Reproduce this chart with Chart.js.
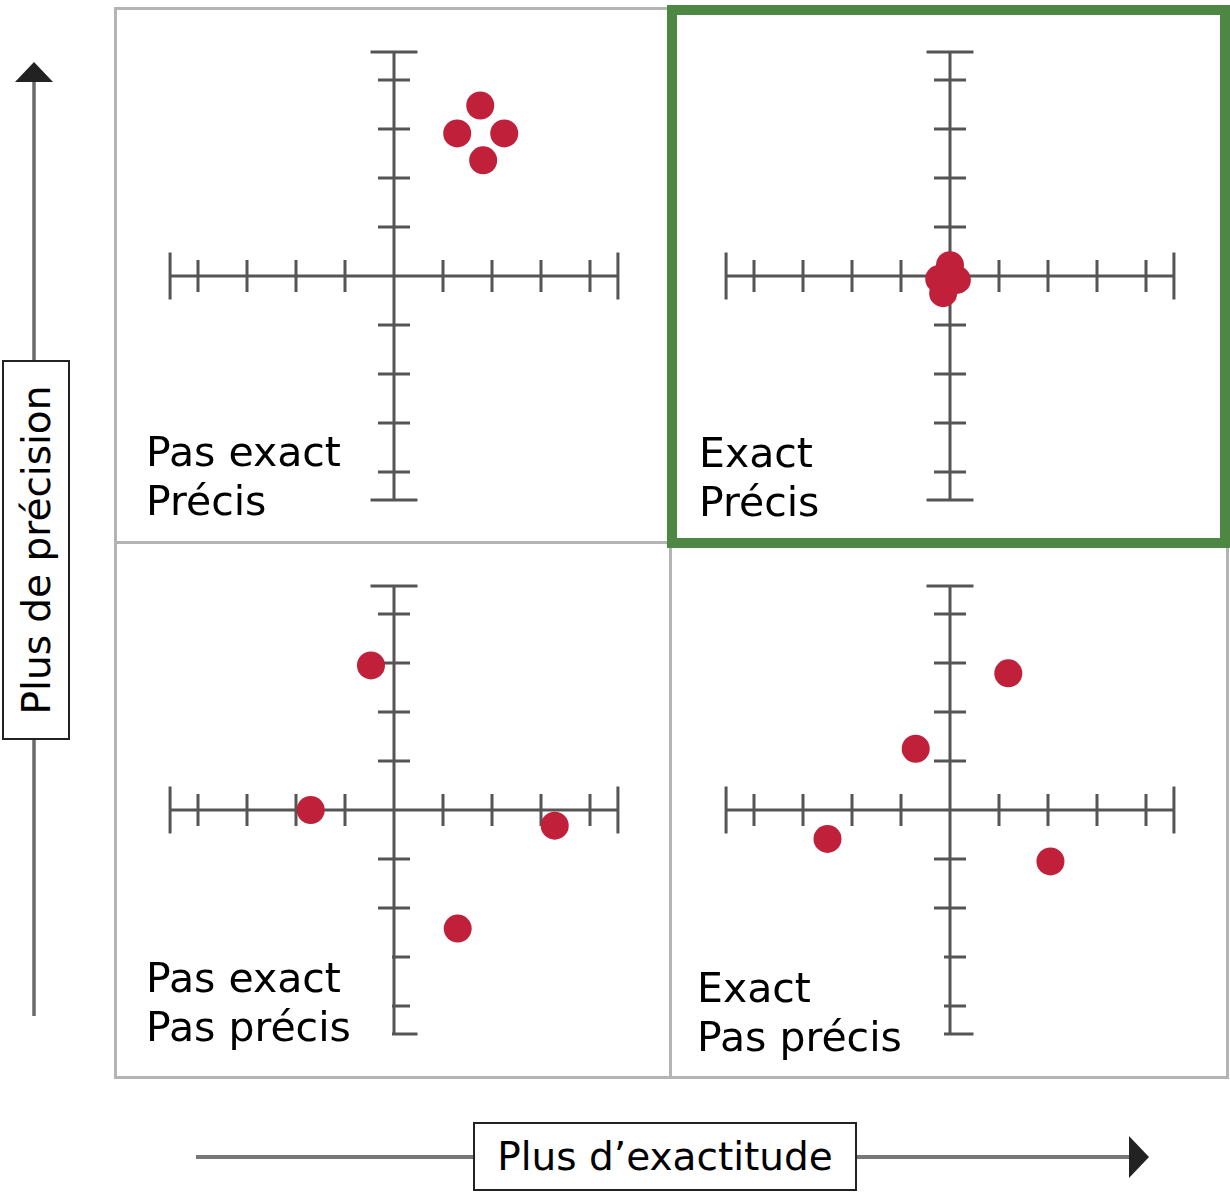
<!DOCTYPE html>
<html lang="fr">
<head>
<meta charset="utf-8">
<title>Exactitude et précision</title>
<script src="https://cdn.jsdelivr.net/npm/chart.js@4.4.1/dist/chart.umd.min.js"></script>
<style>
  body { margin: 0; background: #fff; font-family: 'DejaVu Sans', sans-serif; }
  #page { position: relative; width: 1230px; height: 1195px; overflow: hidden; }
  .cadre { position: absolute; box-sizing: border-box; }
  canvas { position: absolute; }
  .etiquette { position: absolute; font-size: 41px; line-height: 49px; color: #000; white-space: nowrap; }
  .boite { position: absolute; box-sizing: border-box; border: 2px solid #222; background: #fff;
           display: flex; align-items: center; justify-content: center; font-size: 39px; white-space: nowrap; }
</style>
</head>
<body>
<div id="page">
  <svg width="1230" height="1195" style="position:absolute;left:0;top:0">
    <line x1="34" y1="80" x2="34" y2="1016" stroke="#6a6a6a" stroke-width="3.5"/>
    <polygon points="34,62 15,82 53,82" fill="#222"/>
    <line x1="196" y1="1157" x2="1132" y2="1157" stroke="#777" stroke-width="4"/>
    <polygon points="1149,1157 1129,1136 1129,1178" fill="#222"/>
  </svg>

  <!-- cadres des quatre panneaux -->
  <div class="cadre" style="left:114px;top:7px;width:1115px;height:1072px;border:3px solid #b4b4b4"></div>
  <div class="cadre" style="left:669px;top:7px;width:3px;height:1072px;background:#b4b4b4"></div>
  <div class="cadre" style="left:114px;top:541px;width:1115px;height:3px;background:#b4b4b4"></div>
  <div class="cadre" style="left:667px;top:5px;width:563px;height:543px;border:10px solid #4e8744"></div>

  <canvas id="hautGauche" width="490" height="490" style="left:149px;top:31px;width:490px;height:490px"></canvas>
  <canvas id="hautDroite" width="490" height="490" style="left:705px;top:31px;width:490px;height:490px"></canvas>
  <canvas id="basGauche" width="490" height="490" style="left:149px;top:565px;width:490px;height:490px"></canvas>
  <canvas id="basDroite" width="490" height="490" style="left:705px;top:565px;width:490px;height:490px"></canvas>

  <div class="etiquette" style="left:146px;top:428px">Pas exact<br>Précis</div>
  <div class="etiquette" style="left:699px;top:429px">Exact<br>Précis</div>
  <div class="etiquette" style="left:146px;top:954px">Pas exact<br>Pas précis</div>
  <div class="etiquette" style="left:697px;top:964px">Exact<br>Pas précis</div>

  <div class="boite" style="left:-154px;top:516px;width:380px;height:68px;transform:rotate(-90deg)">Plus de précision</div>
  <div class="boite" style="left:473px;top:1122px;width:384px;height:69px">Plus d’exactitude</div>
</div>

<script>
/* graduations de la croix (mêmes sur les deux axes) */
const graduations = [-4, -3, -2, -1, 1, 2, 3, 4]
const extremite = 4.57

/* points de chaque cible */
const xPasExactPrecis = [1.76, 1.29, 2.25, 1.82]
const yPasExactPrecis = [3.48, 2.91, 2.91, 2.36]

const xExactPrecis = [0.0, -0.22, 0.14, -0.14]
const yExactPrecis = [0.22, -0.06, -0.08, -0.35]

const xPasExactPasPrecis = [-0.47, -1.70, 3.28, 1.30]
const yPasExactPasPrecis = [2.95, 0.0, -0.32, -2.42]

const xExactPasPrecis = [1.19, -0.70, -2.50, 2.05]
const yExactPasPrecis = [2.79, 1.25, -0.59, -1.05]

const couleurPoint = '#c1203a'
const couleurCroix = '#555'

/* dessine la croix graduée avec les échelles du graphique */
const croix = {
  id: 'croix',
  beforeDatasetsDraw(chart, args, opts) {
    const ctx = chart.ctx
    const sx = chart.scales.x
    const sy = chart.scales.y
    const x0 = sx.getPixelForValue(0)
    const y0 = sy.getPixelForValue(0)
    const court = 16
    const long = 23.5

    ctx.save()
    ctx.strokeStyle = couleurCroix
    ctx.lineWidth = 3
    ctx.beginPath()
    ctx.moveTo(sx.getPixelForValue(-extremite), y0)
    ctx.lineTo(sx.getPixelForValue(extremite), y0)
    ctx.moveTo(x0, sy.getPixelForValue(extremite))
    ctx.lineTo(x0, sy.getPixelForValue(-extremite))

    graduations.forEach(v => {
      const px = sx.getPixelForValue(v)
      ctx.moveTo(px, y0 - court)
      ctx.lineTo(px, y0 + court)
      const py = sy.getPixelForValue(v)
      const gauche = (opts.coupeBas && v <= -3) ? opts.coupeBas : court
      ctx.moveTo(x0 - gauche, py)
      ctx.lineTo(x0 + court, py)
    })

    // bouts des axes
    ;[-extremite, extremite].forEach(v => {
      const px = sx.getPixelForValue(v)
      ctx.moveTo(px, y0 - long)
      ctx.lineTo(px, y0 + long)
      const py = sy.getPixelForValue(v)
      const gauche = (opts.coupeBas && v < 0) ? opts.coupeBas : long
      ctx.moveTo(x0 - gauche, py)
      ctx.lineTo(x0 + long, py)
    })
    ctx.stroke()
    ctx.restore()
  }
}

function cible(id, xs, ys, coupeBas) {
  const ctx = document.getElementById(id)
  const points = xs.map((x, i) => ({x: x, y: ys[i]}))

  return new Chart(ctx, {
    type: 'scatter',
    data: {
      datasets: [{
        data: points,
        backgroundColor: couleurPoint,
        borderWidth: 0,
        pointRadius: 14,
        pointHoverRadius: 14
      }]
    },
    options: {
      responsive: false,
      animation: false,
      events: [],
      layout: { padding: 0, autoPadding: false },
      scales: {
        x: { display: false, min: -5, max: 5 },
        y: { display: false, min: -5, max: 5 }
      },
      plugins: {
        legend: { display: false },
        tooltip: { enabled: false },
        croix: { coupeBas: coupeBas }
      }
    },
    plugins: [croix]
  })
}

cible('hautGauche', xPasExactPrecis, yPasExactPrecis, 0)
cible('hautDroite', xExactPrecis, yExactPrecis, 0)
cible('basGauche', xPasExactPasPrecis, yPasExactPasPrecis, 2)
cible('basDroite', xExactPasPrecis, yExactPasPrecis, 6)
</script>
</body>
</html>
